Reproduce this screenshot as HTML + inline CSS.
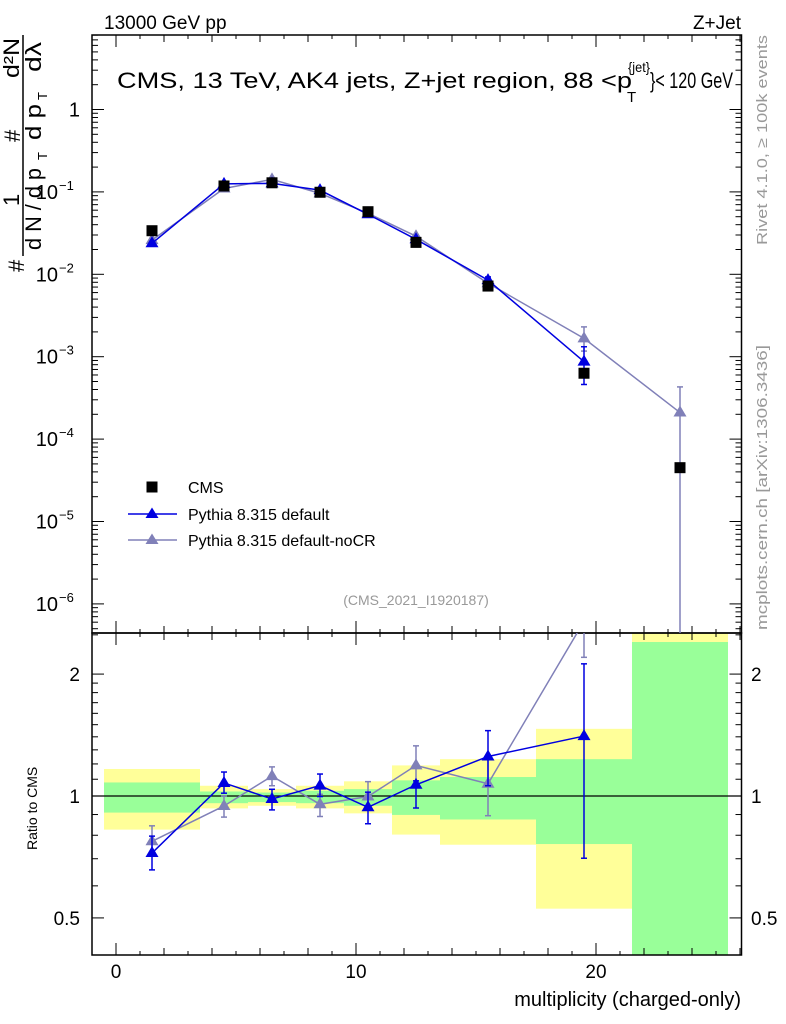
<!DOCTYPE html>
<html><head><meta charset="utf-8">
<style>
html,body{margin:0;padding:0;background:#fff;}
svg{display:block;font-family:"Liberation Sans",sans-serif;}
</style></head>
<body>
<svg id="chart" width="786" height="1024" viewBox="0 0 786 1024" xmlns="http://www.w3.org/2000/svg">
<text x="104" y="29" font-size="19">13000 GeV pp</text>
<text x="741" y="29" font-size="19" text-anchor="end">Z+Jet</text>
<text x="117" y="88" font-size="22" textLength="515" lengthAdjust="spacingAndGlyphs">CMS, 13 TeV, AK4 jets, Z+jet region, 88 &lt;p</text>
<text x="628" y="72" font-size="14" textLength="22" lengthAdjust="spacingAndGlyphs">{jet}</text>
<text x="627" y="102" font-size="15">T</text>
<text x="650" y="88" font-size="22" textLength="83" lengthAdjust="spacingAndGlyphs">}&lt; 120 GeV</text>
<text transform="translate(767,245) rotate(-90)" font-size="15" fill="#999" textLength="210" lengthAdjust="spacingAndGlyphs">Rivet 4.1.0, ≥ 100k events</text>
<text transform="translate(767,630) rotate(-90)" font-size="15" fill="#999" textLength="285" lengthAdjust="spacingAndGlyphs">mcplots.cern.ch [arXiv:1306.3436]</text>
<text x="416" y="605" font-size="14" fill="#999" text-anchor="middle">(CMS_2021_I1920187)</text>
<g font-size="22">
<text transform="translate(19,206) rotate(-90)">1</text>
<line x1="23" y1="256" x2="23" y2="35" stroke="#000" stroke-width="1.5"/>
<text transform="translate(24,272) rotate(-90)">#</text>
<text transform="translate(41,250) rotate(-90)" textLength="82" lengthAdjust="spacingAndGlyphs">d N / d p</text>
<text transform="translate(47,160) rotate(-90)" font-size="13">T</text>
<text transform="translate(20,142) rotate(-90)">#</text>
<text transform="translate(19,78) rotate(-90)" textLength="40" lengthAdjust="spacingAndGlyphs">d²N</text>
<text transform="translate(41,140) rotate(-90)" textLength="36" lengthAdjust="spacingAndGlyphs">d p</text>
<text transform="translate(47,100) rotate(-90)" font-size="13">T</text>
<text transform="translate(41,72) rotate(-90)" textLength="30" lengthAdjust="spacingAndGlyphs">dλ</text>
</g>
<text transform="translate(37,850) rotate(-90)" font-size="14">Ratio to CMS</text>
<text x="741" y="1006" font-size="20" text-anchor="end">multiplicity (charged-only)</text>
<g id="bands"></g>
<g id="grid"></g>
<g id="marks"></g>
<g id="legend">
<rect x="146.5" y="481.5" width="11" height="11" fill="#000"/>
<text x="188" y="493" font-size="16">CMS</text>
<line x1="128" y1="514" x2="177" y2="514" stroke="#0000e0" stroke-width="1.5"/>
<polygon points="152,507.5 158.5,518 145.5,518" fill="#0000e0"/>
<text x="188" y="520" font-size="16">Pythia 8.315 default</text>
<line x1="128" y1="540" x2="177" y2="540" stroke="#8080b8" stroke-width="1.5"/>
<polygon points="152,533.5 158.5,544 145.5,544" fill="#8080b8"/>
<text x="188" y="546" font-size="16">Pythia 8.315 default-noCR</text>
</g>
</svg>
<script>
// ---- data ----
const binCenters = [1.5, 4.5, 6.5, 8.5, 10.5, 12.5, 15.5, 19.5, 23.5];
const binLow =     [-0.5, 3.5, 5.5, 7.5, 9.5, 11.5, 13.5, 17.5, 21.5];
const binHigh =    [3.5, 5.5, 7.5, 9.5, 11.5, 13.5, 17.5, 21.5, 25.5];
const cmsValues = [0.0338, 0.118, 0.129, 0.099, 0.0575, 0.0244, 0.0072, 0.00063, 0.000045];
const defaultValues = [0.0238, 0.125, 0.127, 0.105, 0.0535, 0.0266, 0.0085, 0.00087];
const defaultErrUp =  [0.0012, 0.004, 0.004, 0.004, 0.002, 0.001, 0.0008, 0.00045];
const defaultErrDn =  [0.0012, 0.004, 0.004, 0.004, 0.002, 0.001, 0.0008, 0.00041];
const nocrValues = [0.026, 0.11, 0.142, 0.096, 0.055, 0.029, 0.0078, 0.00167, 0.00021];
const nocrErrUp =  [0.0012, 0.004, 0.005, 0.004, 0.002, 0.0012, 0.0008, 0.00063, 0.00022];
const nocrErrDn =  [0.0012, 0.004, 0.005, 0.004, 0.002, 0.0012, 0.0008, 0.0005, 0.00021];
const ratioDefault = [0.723, 1.077, 0.983, 1.061, 0.938, 1.066, 1.252, 1.406];
const ratioDefaultUp = [0.796, 1.146, 1.039, 1.133, 1.022, 1.09, 1.45, 2.12];
const ratioDefaultDn = [0.657, 1.016, 0.924, 0.997, 0.854, 0.934, 1.06, 0.702];
const ratioNocr = [0.773, 0.945, 1.12, 0.954, 0.997, 1.19, 1.072, 2.7];
const ratioNocrUp = [0.844, 1.0, 1.18, 1.01, 1.085, 1.33, 1.25, 3.2];
const ratioNocrDn = [0.72, 0.887, 1.06, 0.89, 0.94, 1.07, 0.894, 2.2];
const bandGreenUp = [1.08, 1.026, 1.02, 1.03, 1.04, 1.093, 1.114, 1.233, 2.4];
const bandGreenDn = [0.91, 0.96, 0.966, 0.96, 0.946, 0.898, 0.875, 0.761, 0.2];
const bandYellowUp = [1.166, 1.06, 1.04, 1.06, 1.087, 1.19, 1.233, 1.465, 3.0];
const bandYellowDn = [0.826, 0.932, 0.946, 0.932, 0.906, 0.803, 0.758, 0.527, 0.1];
const xTicks = [0, 10, 20];
const mainYTicks = [1, 0.1, 0.01, 0.001, 0.0001, 0.00001, 0.000001];
const mainYTickLabels = [["1",""],["10","−1"],["10","−2"],["10","−3"],["10","−4"],["10","−5"],["10","−6"]];
const ratioTicks = [2, 1, 0.5];
const ratioTickLabels = ["2", "1", "0.5"];

// ---- axes ----
const L = 92, R = 741.5, MT = 35, MB = 633, RB = 955;
const X = v => 116 + 24 * v;
const Y = v => 109.5 - 82.4 * Math.log10(v);
const YR = r => 796 - 405 * Math.log10(r);
const clampR = y => Math.max(MB, Math.min(RB, y));
const NS = "http://www.w3.org/2000/svg";
function mk(tag, attrs, parent) {
  const e = document.createElementNS(NS, tag);
  for (const k in attrs) e.setAttribute(k, attrs[k]);
  parent.appendChild(e);
  return e;
}
const bands = document.getElementById('bands');
const grid = document.getElementById('grid');
const marks = document.getElementById('marks');

for (let i = 0; i < binCenters.length; i++) {
  const x0 = X(binLow[i]), x1 = X(binHigh[i]);
  const yu = clampR(YR(bandYellowUp[i])), yd = clampR(YR(bandYellowDn[i]));
  const y = mk('rect', {x: x0, y: yu, width: x1 - x0, height: yd - yu, fill: '#ffff99'}, bands);
  
  
  const gu = clampR(YR(bandGreenUp[i])), gd = clampR(YR(bandGreenDn[i]));
  const g = mk('rect', {x: x0, y: gu, width: x1 - x0, height: gd - gu, fill: '#99ff99'}, bands);
  
  
}

const f1 = mk('rect', {x: L, y: MT, width: R - L, height: MB - MT, fill: 'none', stroke: '#000', 'stroke-width': 1.5}, grid);


const f2 = mk('rect', {x: L, y: MB, width: R - L, height: RB - MB, fill: 'none', stroke: '#000', 'stroke-width': 1.5}, grid);


const one = mk('line', {x1: L, x2: R, y1: YR(1), y2: YR(1), stroke: '#000', 'stroke-width': 1.2}, grid);



for (let v = -1; v <= 26; v++) {
  const len = v % 10 === 0 ? 12 : (v % 2 === 0 ? 7 : 4);
  [[MT, 1], [MB, -1], [MB, 1], [RB, -1]].forEach(([y0, d]) => {
    mk('line', {x1: X(v), x2: X(v), y1: y0, y2: y0 + d * len, stroke: '#000', 'stroke-width': 1}, grid);
  });
}
xTicks.forEach((v, i) => {
  const t = mk('text', {x: X(v), y: 978, 'font-size': 19, 'text-anchor': 'middle'}, grid);
  
  
  t.textContent = String(v);
});

for (let e = -7; e <= 1; e++) {
  for (let m = 1; m <= 9; m++) {
    const v = m * Math.pow(10, e);
    const y = Y(v);
    if (y < MT || y > MB) continue;
    const len = m === 1 ? 12 : 6;
    mk('line', {x1: L, x2: L + len, y1: y, y2: y, stroke: '#000', 'stroke-width': 1}, grid);
    mk('line', {x1: R, x2: R - len, y1: y, y2: y, stroke: '#000', 'stroke-width': 1}, grid);
  }
}
mainYTicks.forEach((v, i) => {
  const t = mk('text', {x: 80, y: Y(v) + 7, 'font-size': 20, 'text-anchor': 'end'}, grid);
  
  
  if (mainYTickLabels[i][1]) {
    t.setAttribute('x', 58);
    t.textContent = mainYTickLabels[i][0];
    const s = mk('text', {x: 59, y: Y(v) - 2, 'font-size': 13}, grid);
    
    
    s.textContent = mainYTickLabels[i][1];
  } else {
    t.textContent = mainYTickLabels[i][0];
  }
});

const rMinor = [0.4,0.5,0.6,0.7,0.8,0.9,1,1.1,1.2,1.3,1.4,1.5,1.6,1.7,1.8,1.9,2,2.5];
rMinor.forEach(r => {
  const y = YR(r);
  if (y < MB || y > RB) return;
  const len = (r === 1 || r === 2 || r === 0.5) ? 12 : 6;
  mk('line', {x1: L, x2: L + len, y1: y, y2: y, stroke: '#000', 'stroke-width': 1}, grid);
  mk('line', {x1: R, x2: R - len, y1: y, y2: y, stroke: '#000', 'stroke-width': 1}, grid);
});
ratioTicks.forEach((r, i) => {
  const t = mk('text', {x: 80, y: YR(r) + 7, 'font-size': 19, 'text-anchor': 'end'}, grid);
  
  
  t.textContent = ratioTickLabels[i];
  const t2 = mk('text', {x: 751, y: YR(r) + 7, 'font-size': 19}, grid);
  
  
  t2.textContent = ratioTickLabels[i];
});

const defs = mk('defs', {}, marks);
const c1 = mk('clipPath', {id: 'cm'}, defs);
mk('rect', {x: L, y: MT, width: R - L, height: MB - MT}, c1);
const c2 = mk('clipPath', {id: 'cr'}, defs);
mk('rect', {x: L, y: MB, width: R - L, height: RB - MB}, c2);
const gm = mk('g', {'clip-path': 'url(#cm)'}, marks);
const gr = mk('g', {'clip-path': 'url(#cr)'}, marks);

function tri(parent, x, y, color, name) {
  const p = mk('polygon', {points: `${x},${y-7} ${x+6.5},${y+4} ${x-6.5},${y+4}`, fill: color}, parent);
  
  
}
function errbar(parent, x, y1, y2, color) {
  mk('line', {x1: x, x2: x, y1: y1, y2: y2, stroke: color, 'stroke-width': 1.5}, parent);
  mk('line', {x1: x - 3, x2: x + 3, y1: y1, y2: y1, stroke: color, 'stroke-width': 1.5}, parent);
  mk('line', {x1: x - 3, x2: x + 3, y1: y2, y2: y2, stroke: color, 'stroke-width': 1.5}, parent);
}
function series(parent, vals, up, dn, yf, color, name) {
  const pts = vals.map((v, i) => X(binCenters[i]) + ',' + yf(v)).join(' ');
  const pl = mk('polyline', {points: pts, fill: 'none', stroke: color, 'stroke-width': 1.5}, parent);
  
  
  vals.forEach((v, i) => {
    errbar(parent, X(binCenters[i]), yf(up[i]), Math.min(yf(dn[i]), 2000), color);
    tri(parent, X(binCenters[i]), yf(v), color, name + '-point-' + i);
  });
}
const nUp = nocrValues.map((v, i) => v + nocrErrUp[i]);
const nDn = nocrValues.map((v, i) => Math.max(v - nocrErrDn[i], 1e-9));
series(gm, nocrValues, nUp, nDn, Y, '#8080b8', 'nocr');
const dUp = defaultValues.map((v, i) => v + defaultErrUp[i]);
const dDn = defaultValues.map((v, i) => Math.max(v - defaultErrDn[i], 1e-9));
series(gm, defaultValues, dUp, dDn, Y, '#0000e0', 'default');
cmsValues.forEach((v, i) => {
  const r = mk('rect', {x: X(binCenters[i]) - 5.5, y: Y(v) - 5.5, width: 11, height: 11, fill: '#000'}, gm);
  
  
});
series(gr, ratioNocr, ratioNocrUp, ratioNocrDn, YR, '#8080b8', 'ratio-nocr');
series(gr, ratioDefault, ratioDefaultUp, ratioDefaultDn, YR, '#0000e0', 'ratio-default');
</script>
</body></html>
